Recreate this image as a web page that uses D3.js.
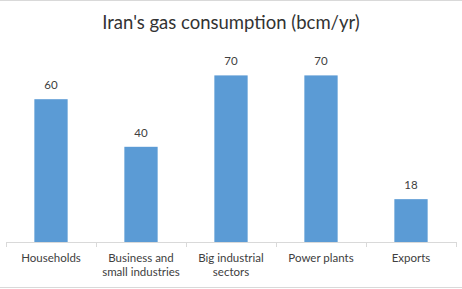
<!DOCTYPE html>
<html>
<head>
<meta charset="utf-8">
<script src="https://cdn.jsdelivr.net/npm/d3@7"></script>
<style>
  body { margin: 0; background: #fff; }
  svg { display: block; font-family: Lato, "Open Sans", sans-serif; }
</style>
</head>
<body>
<div id="chart"></div>
<script>
// chart data
const categories = ["Households", "Business and|small industries", "Big industrial|sectors", "Power plants", "Exports"];
const values = [60, 40, 70, 70, 18];
const title = "Iran's gas consumption (bcm/yr)";

const width = 462;
const height = 289;
const margin = { top: 52, right: 6, bottom: 47, left: 6 };

const svg = d3.select("#chart").append("svg")
    .attr("width", width)
    .attr("height", height);

// top and bottom frame lines
svg.selectAll(".frame")
    .data([0.5, height - 1.5])
    .join("line")
    .attr("class", "frame")
    .attr("x1", 0).attr("x2", width)
    .attr("y1", d => d).attr("y2", d => d)
    .attr("stroke", "#d9d9d9");

svg.append("text")
    .attr("x", width / 2)
    .attr("y", 29)
    .attr("text-anchor", "middle")
    .attr("font-size", 18.5)
    .attr("fill", "#333")
    .text(title);

const x = d3.scaleBand()
    .domain(categories)
    .range([margin.left, width - margin.right])
    .paddingInner(0.63)
    .paddingOuter(0.315);

const y = d3.scaleLinear()
    .domain([0, 80])
    .range([height - margin.bottom, height - margin.bottom - 80 * 2.38]);

const data = categories.map((c, i) => ({ cat: c, value: values[i] }));

svg.selectAll(".bar")
    .data(data)
    .join("rect")
    .attr("class", "bar")
    .attr("x", d => x(d.cat))
    .attr("y", d => y(d.value))
    .attr("width", x.bandwidth())
    .attr("height", d => y(0) - y(d.value))
    .attr("fill", "#5b9bd5");

svg.selectAll(".val")
    .data(data)
    .join("text")
    .attr("class", "val")
    .attr("x", d => x(d.cat) + x.bandwidth() / 2)
    .attr("y", d => y(d.value) - 10)
    .attr("text-anchor", "middle")
    .attr("font-size", 11.5)
    .attr("fill", "#404040")
    .text(d => d.value);

// x axis: baseline plus tick marks between categories
const axisY = y(0);
const step = x.step();
svg.append("line")
    .attr("x1", margin.left).attr("x2", width - margin.right)
    .attr("y1", axisY + 0.5).attr("y2", axisY + 0.5)
    .attr("stroke", "#d9d9d9");

const tickPos = d3.range(categories.length + 1).map(i => margin.left + i * step);
svg.selectAll(".tick")
    .data(tickPos)
    .join("line")
    .attr("class", "tick")
    .attr("x1", d => Math.round(d) + 0.5).attr("x2", d => Math.round(d) + 0.5)
    .attr("y1", axisY).attr("y2", axisY + 5)
    .attr("stroke", "#d9d9d9");

svg.selectAll(".cat")
    .data(categories)
    .join("text")
    .attr("class", "cat")
    .attr("x", d => x(d) + x.bandwidth() / 2)
    .attr("y", axisY + 20)
    .attr("text-anchor", "middle")
    .attr("font-size", 11.5)
    .attr("fill", "#404040")
    .selectAll("tspan")
    .data(d => d.split("|"))
    .join("tspan")
    .attr("x", function() { return this.parentNode.getAttribute("x"); })
    .attr("dy", (d, i) => i === 0 ? 0 : 14)
    .text(d => d);
</script>
</body>
</html>
